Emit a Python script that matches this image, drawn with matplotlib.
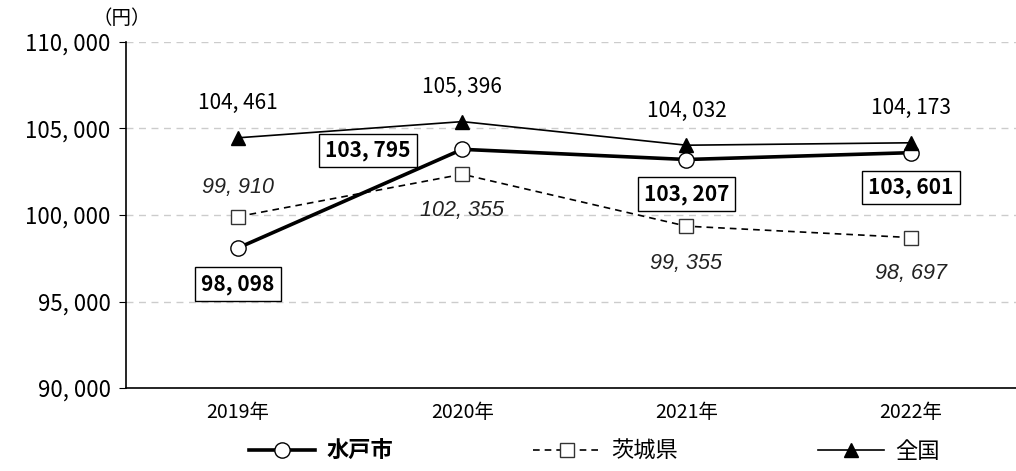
import matplotlib
matplotlib.use("Agg")
import matplotlib.pyplot as plt
from matplotlib.ticker import FuncFormatter, MultipleLocator

plt.rcParams['font.family'] = ['Noto Sans CJK JP', 'DejaVu Sans']

anos = ["2019年", "2020年", "2021年", "2022年"]
mito = [98098, 103795, 103207, 103601]
ibaraki = [99910, 102355, 99355, 98697]
zenkoku = [104461, 105396, 104032, 104173]

def fmt(v):
    return f"{v:,.0f}".replace(",", ", ")

fig = plt.figure(figsize=(10.16, 4.71), dpi=100)
ax = fig.add_axes([0.124, 0.176, 0.876, 0.735])
xs = list(range(len(anos)))

ax.plot(xs, ibaraki, color='black', lw=1.2, ls=(0, (4, 3)), marker='s', ms=10,
        mfc='white', mec='#333333', mew=1.0, label='茨城県', zorder=3)
ax.plot(xs, mito, color='black', lw=2.6, marker='o', ms=11,
        mfc='white', mec='black', mew=1.0, label='水戸市', zorder=4)
ax.plot(xs, zenkoku, color='black', lw=1.2, marker='^', ms=10,
        mfc='black', mec='black', label='全国', zorder=5)

# 全国 labels (above)
for x, v in zip(xs, zenkoku):
    ax.annotate(fmt(v), (x, v), xytext=(0, 25), textcoords='offset points',
                ha='center', va='center', fontsize=15)

# 茨城県 labels (italic)
off_ib = [(0, 21), (0, -26), (0, -27), (0, -26)]
for x, v, o in zip(xs, ibaraki, off_ib):
    ax.annotate(fmt(v), (x, v), xytext=o, textcoords='offset points',
                ha='center', va='center', fontsize=15.5, style='italic',
                family=['Liberation Sans', 'DejaVu Sans'], color='#222222')

# 水戸市 labels (boxed)
off_mi = [(0, -26), (-68, -1), (0, -25), (0, -25)]
for x, v, o in zip(xs, mito, off_mi):
    ax.annotate(fmt(v), (x, v), xytext=o, textcoords='offset points',
                ha='center', va='center', fontsize=15, fontweight='bold',
                bbox=dict(boxstyle='square,pad=0.3', fc='white', ec='black', lw=1.0),
                zorder=6)

ax.set_ylim(90000, 110000)
ax.set_xlim(-0.5, 3.47)
ax.yaxis.set_major_locator(MultipleLocator(5000))
ax.yaxis.set_major_formatter(FuncFormatter(lambda v, p: fmt(v)))
ax.set_xticks(xs)
ax.set_xticklabels(anos)
ax.tick_params(axis='x', length=0, labelsize=14, pad=10)
ax.tick_params(axis='y', length=5, labelsize=16, direction='out', pad=6)
ax.yaxis.grid(True, color='#cccccc', ls=(0, (5, 4)), lw=1.0)
ax.set_axisbelow(True)
for s in ['top', 'right']:
    ax.spines[s].set_visible(False)
ax.spines['left'].set_linewidth(1.2)
ax.spines['bottom'].set_linewidth(1.2)

fig.text(0.12, 0.96, "（円）", fontsize=14, ha='center', va='center')

h, l = ax.get_legend_handles_labels()
order = [1, 0, 2]
leg = fig.legend([h[i] for i in order], [l[i] for i in order], loc='lower center',
                 bbox_to_anchor=(0.585, -0.025), ncol=3, frameon=False, fontsize=16,
                 handlelength=3.0, columnspacing=6.3, handletextpad=0.5)
for t in leg.get_texts():
    if t.get_text() == '水戸市':
        t.set_fontweight('bold')

fig.savefig("out.png", dpi=100)
